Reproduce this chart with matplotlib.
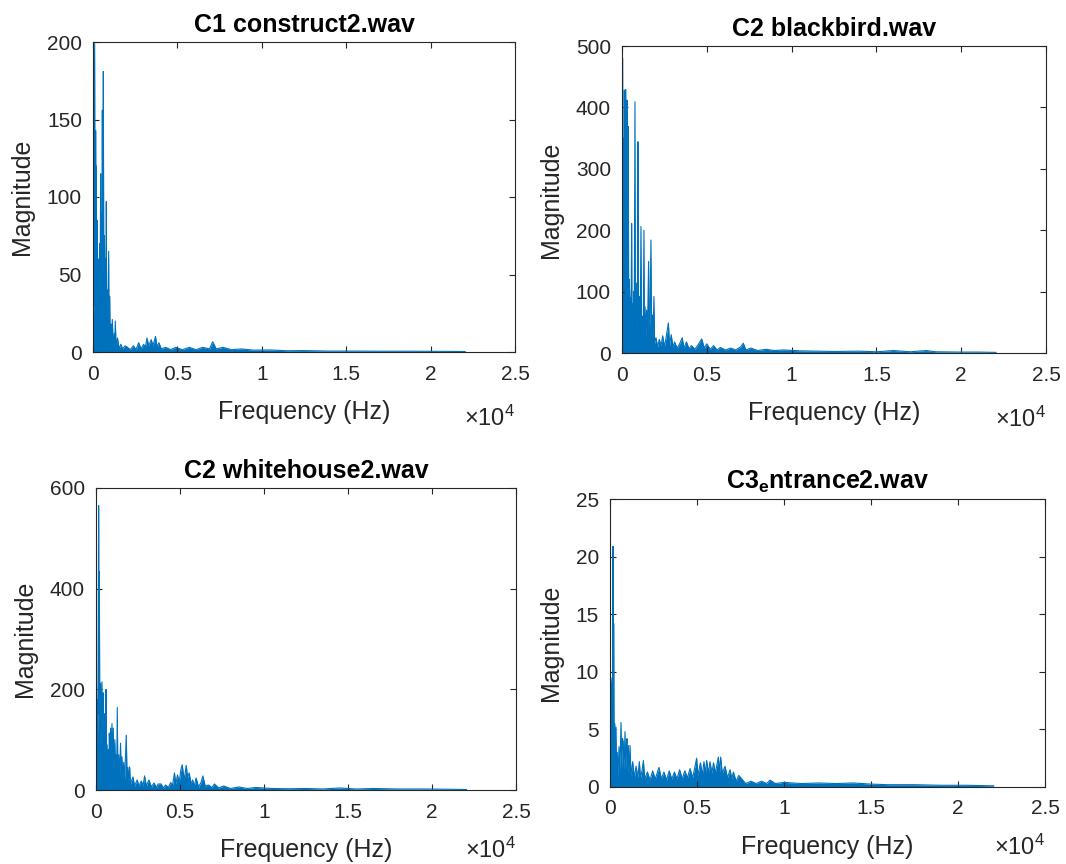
import matplotlib
matplotlib.use("Agg")
import matplotlib.pyplot as plt

plt.rcParams['font.family'] = ['Liberation Sans', 'DejaVu Sans']
plt.rcParams['mathtext.fontset'] = 'custom'
plt.rcParams['mathtext.rm'] = 'Liberation Sans'
plt.rcParams['mathtext.bf'] = 'Liberation Sans:bold'

# ---------------- data (frequency in Hz, magnitude) ----------------
titles = ["C1 construct2.wav", "C2 blackbird.wav", "C2 whitehouse2.wav",
          r"C3$_\mathbf{e}$ntrance2.wav"]

freq_construct = [0, 15, 40, 98, 120, 158, 175, 197, 215, 250, 280, 320, 350, 390, 420, 453, 480, 510, 530,
                  552, 575, 611, 640, 680, 710, 750, 770, 788, 810, 850, 880, 926, 950, 985, 1020, 1080, 1110,
                  1143, 1200, 1260, 1290, 1320, 1370, 1450, 1550, 1650, 1750, 1900, 2050, 2200, 2400, 2550,
                  2700, 2850, 3000, 3100, 3200, 3300, 3450, 3550, 3700, 3800, 3900, 4050, 4300, 4600, 4900,
                  5300, 5700, 6100, 6500, 6900, 7090, 7300, 7700, 8200, 8800, 9500, 10500, 11500, 12500,
                  14000, 15500, 17000, 19000, 21000, 22050]
mag_construct = [10, 52, 20, 199, 30, 143, 35, 120, 40, 85, 35, 60, 30, 70, 40, 115, 45, 90, 40,
                 156, 50, 181, 45, 75, 30, 60, 25, 97, 20, 40, 15, 65, 12, 36, 8, 18, 5,
                 21, 4, 12, 3, 20, 3, 9, 2, 5, 2, 4, 3, 1.5, 4, 1.5,
                 6, 2, 5, 3, 9, 4, 8, 4, 10, 3, 6, 2, 3, 1.5, 3,
                 1.5, 3, 1.5, 3, 2, 6.6, 2, 3, 1.5, 2, 1.2, 1.3, 0.8, 0.9,
                 0.6, 0.6, 0.5, 0.5, 0.4, 0.3]

freq_blackbird = [0, 35, 48, 59, 80, 98, 115, 137, 160, 185, 200, 216, 240, 265, 280, 294, 320, 345, 360,
                  372, 395, 420, 450, 470, 500, 530, 568, 590, 630, 660, 686, 720, 764, 790, 843, 870, 910,
                  941, 970, 1000, 1039, 1070, 1117, 1150, 1200, 1250, 1294, 1320, 1360, 1400, 1450, 1500,
                  1568, 1600, 1650, 1705, 1740, 1790, 1830, 1882, 1920, 2000, 2100, 2200, 2300, 2400, 2500,
                  2600, 2735, 2800, 2900, 3000, 3100, 3250, 3400, 3550, 3650, 3800, 3950, 4100, 4300, 4500,
                  4700, 4850, 5000, 5200, 5400, 5600, 5800, 6100, 6400, 6700, 7000, 7150, 7300, 7600, 8000,
                  8500, 9000, 9500, 10500, 11500, 12500, 14000, 15000, 16000, 17000, 17940, 18500, 20000,
                  21000, 22050]
mag_blackbird = [150, 480, 170, 350, 160, 265, 120, 428, 110, 250, 90, 429, 80, 200, 70, 412, 60, 150, 55,
                 369, 50, 120, 100, 45, 90, 40, 211, 40, 80, 35, 100, 40, 409, 40, 114, 35, 70,
                 344, 35, 60, 92, 30, 206, 30, 60, 30, 200, 30, 75, 28, 70, 30,
                 149, 28, 60, 184, 25, 62, 25, 92, 15, 25, 10, 22, 12, 28, 10,
                 25, 49, 12, 30, 10, 18, 8, 15, 25, 8, 18, 7, 12, 6, 14,
                 23, 8, 15, 6, 12, 5, 9, 5, 8, 5, 10, 16, 5, 8, 4,
                 6, 4, 5, 3.5, 3, 2.5, 3, 2, 4, 2, 4, 2, 1.5,
                 1.5, 1]

freq_whitehouse = [0, 20, 45, 79, 110, 158, 180, 198, 230, 277, 300, 356, 390, 435, 455, 475, 510, 550, 575,
                   594, 620, 660, 700, 740, 770, 792, 830, 870, 900, 950, 980, 1030, 1060, 1120, 1160, 1200,
                   1230, 1267, 1300, 1350, 1400, 1460, 1500, 1544, 1600, 1650, 1700, 1802, 1850, 1900, 1950,
                   2000, 2050, 2198, 2300, 2450, 2550, 2700, 2800, 2890, 3000, 3150, 3300, 3450, 3600, 3700,
                   3880, 4000, 4150, 4300, 4450, 4550, 4670, 4750, 4850, 4950, 5050, 5130, 5250, 5370, 5450,
                   5550, 5650, 5750, 5850, 5960, 6100, 6250, 6360, 6500, 6700, 6900, 7050, 7300, 7600, 8000,
                   8500, 9000, 9500, 10500, 11500, 12500, 13500, 14500, 15500, 16500, 18000, 19500, 21000,
                   22050]
mag_whitehouse = [100, 255, 120, 179, 90, 565, 150, 434, 100, 212, 90, 215, 80, 193, 70, 152, 60, 100, 55,
                  200, 55, 90, 50, 80, 45, 113, 50, 123, 45, 132, 40, 123, 40, 100, 35, 70,
                  30, 164, 30, 70, 30, 93, 25, 66, 25, 55, 20, 109, 20, 45, 15,
                  46, 12, 26, 8, 20, 8, 18, 8, 28, 8, 20, 6, 14, 5, 12,
                  12, 4, 10, 5, 15, 8, 34, 12, 30, 15, 40, 50, 20, 49, 25,
                  34, 12, 20, 8, 24, 6, 15, 28, 8, 10, 5, 12, 4, 8, 3,
                  6, 3, 5, 3, 2.5, 3, 2, 4, 2, 3, 2, 2, 1.5,
                  1]

freq_entrance = [0, 20, 40, 77, 100, 120, 145, 172, 190, 211, 235, 268, 300, 345, 380, 420, 460, 520, 570,
                 632, 680, 720, 766, 800, 862, 900, 940, 977, 1010, 1054, 1100, 1150, 1200, 1300, 1400, 1500,
                 1600, 1686, 1750, 1850, 1916, 2000, 2150, 2300, 2450, 2600, 2817, 2950, 3100, 3250, 3400,
                 3550, 3700, 3850, 4000, 4150, 4300, 4450, 4600, 4750, 4900, 4980, 5050, 5200, 5300, 5400,
                 5480, 5556, 5650, 5748, 5850, 5950, 6050, 6227, 6300, 6361, 6450, 6610, 6750, 6900, 7000,
                 7089, 7250, 7400, 7568, 7800, 8100, 8400, 8700, 9000, 9195, 9500, 10000, 11000, 12000,
                 13000, 14000, 15000, 16000, 17500, 19000, 20500, 22050]
mag_entrance = [12.3, 6, 9.5, 8.85, 3, 6.5, 2.5, 20.9, 4, 14.2, 3, 5.5, 1.5, 5.2, 1.2, 3, 1, 3.5, 1.5,
                5.6, 1.5, 4.2, 3.8, 1.5, 4.8, 1.5, 3.5, 4.2, 1.2, 3.6, 1.2, 3.6, 1, 2.2, 0.8, 1.8,
                0.8, 2.2, 0.8, 1.5, 2.3, 0.7, 1.3, 0.6, 1.4, 0.7, 1.7, 0.7, 1.3, 0.6, 1.4,
                0.7, 1.3, 0.7, 1.5, 0.7, 1.4, 0.8, 1.6, 0.8, 1.9, 2.5, 1, 2.1, 1, 2.2,
                1.2, 2.3, 1.2, 2.2, 1.2, 2.1, 1.2, 2.6, 1.3, 2.6, 1.2, 1.8, 0.8, 1.5, 0.7,
                1.3, 0.5, 1, 0.7, 0.3, 0.5, 0.3, 0.5, 0.3, 0.6, 0.3, 0.4, 0.3, 0.35,
                0.3, 0.35, 0.25, 0.2, 0.2, 0.15, 0.15, 0.1]

x_ticks = [0, 5000, 10000, 15000, 20000, 25000]
x_ticklabels = ["0", "0.5", "1", "1.5", "2", "2.5"]
y_ticks = [[0, 50, 100, 150, 200], [0, 100, 200, 300, 400, 500],
           [0, 200, 400, 600], [0, 5, 10, 15, 20, 25]]

series = [(freq_construct, mag_construct), (freq_blackbird, mag_blackbird),
          (freq_whitehouse, mag_whitehouse), (freq_entrance, mag_entrance)]

# ---------------- layout ----------------
W, H = 1066, 864
boxes_px = [(93, 42, 515, 352), (622, 46, 1046, 353), (96, 488, 516, 790), (610, 499, 1045, 787)]
exp_offsets = [-39, -39, -34, -34]

fig = plt.figure(figsize=(W / 100, H / 100), dpi=100)
blue = '#0072BD'
axc = '#262626'

for i, ((x0, y0, x1, y1), (f, m)) in enumerate(zip(boxes_px, series)):
    ax = fig.add_axes([x0 / W, 1 - y1 / H, (x1 - x0) / W, (y1 - y0) / H])
    ax.fill_between(f, 0, m, color=blue, lw=0)
    ax.plot(f, m, color=blue, lw=0.8)
    ax.set_xlim(0, 25000)
    yt = y_ticks[i]
    ax.set_ylim(0, yt[-1])
    ax.set_xticks(x_ticks)
    ax.set_xticklabels(x_ticklabels)
    ax.set_yticks(yt)
    ax.set_yticklabels([str(v) for v in yt])
    ax.tick_params(direction='in', top=True, right=True, length=4, width=0.8,
                   labelsize=15, colors=axc, labelcolor=axc)
    ax.tick_params(axis='x', pad=9)
    ax.tick_params(axis='y', pad=8)
    for s in ax.spines.values():
        s.set_color(axc)
        s.set_linewidth(0.8)
    ax.set_xlabel("Frequency (Hz)", fontsize=18, color=axc, labelpad=12)
    ax.set_ylabel("Magnitude", fontsize=18, color=axc, labelpad=9)
    ax.set_title(titles[i], fontsize=18, fontweight='bold', pad=7)
    ax.annotate(r'$\times\mathregular{10^{4}}$', xy=(1, 0), xycoords='axes fraction',
                xytext=(0, exp_offsets[i]), textcoords='offset points', ha='right', va='top',
                fontsize=17, color=axc)

fig.savefig("out.png", dpi=100)
